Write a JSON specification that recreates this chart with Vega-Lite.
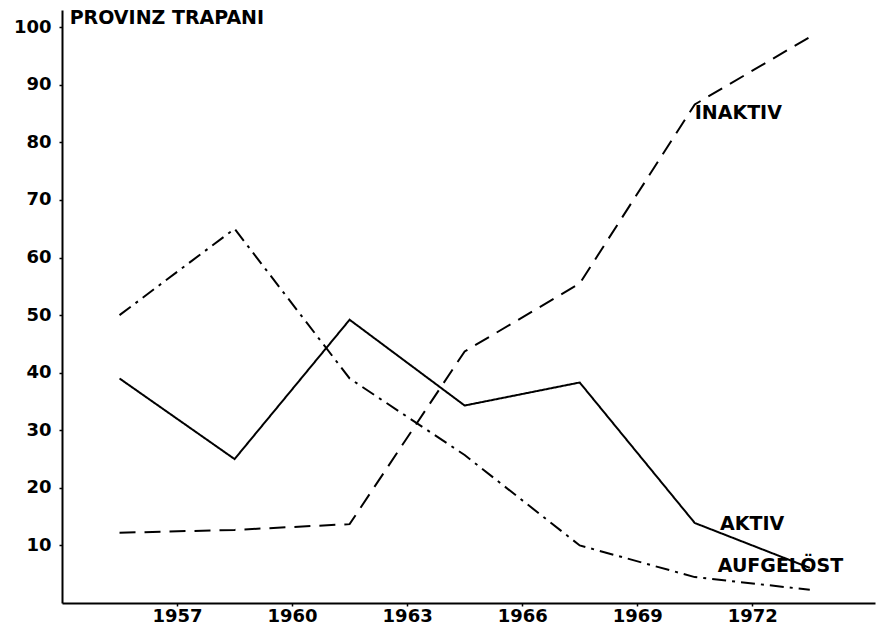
{
  "$schema": "https://vega.github.io/schema/vega-lite/v6.json",
  "width": 813,
  "height": 593,
  "autosize": {"type": "none"},
  "padding": {"left": 62, "top": 10, "right": 7, "bottom": 25},
  "background": "white",
  "config": {
    "view": {"stroke": null},
    "axis": {
      "grid": false,
      "domainColor": "black",
      "domainWidth": 2,
      "tickColor": "black",
      "tickWidth": 1.5,
      "tickSize": 3,
      "labelFont": "DejaVu Sans",
      "labelFontWeight": "bold",
      "labelFontSize": 18,
      "labelColor": "black",
      "title": null
    }
  },
  "datasets": {
    "series": [
      {"year": 1955.5, "value": 39, "series": "Aktiv"},
      {"year": 1958.5, "value": 25, "series": "Aktiv"},
      {"year": 1961.5, "value": 49.2, "series": "Aktiv"},
      {"year": 1964.5, "value": 34.3, "series": "Aktiv"},
      {"year": 1967.5, "value": 38.3, "series": "Aktiv"},
      {"year": 1970.5, "value": 13.9, "series": "Aktiv"},
      {"year": 1973.5, "value": 6.1, "series": "Aktiv"},
      {"year": 1955.5, "value": 12.2, "series": "Inaktiv"},
      {"year": 1958.5, "value": 12.7, "series": "Inaktiv"},
      {"year": 1961.5, "value": 13.7, "series": "Inaktiv"},
      {"year": 1964.5, "value": 43.7, "series": "Inaktiv"},
      {"year": 1967.5, "value": 55.5, "series": "Inaktiv"},
      {"year": 1970.5, "value": 86.6, "series": "Inaktiv"},
      {"year": 1973.5, "value": 98.3, "series": "Inaktiv"},
      {"year": 1955.5, "value": 50, "series": "Aufgelöst"},
      {"year": 1958.5, "value": 65, "series": "Aufgelöst"},
      {"year": 1961.5, "value": 39, "series": "Aufgelöst"},
      {"year": 1964.5, "value": 25.7, "series": "Aufgelöst"},
      {"year": 1967.5, "value": 10, "series": "Aufgelöst"},
      {"year": 1970.5, "value": 4.5, "series": "Aufgelöst"},
      {"year": 1973.5, "value": 2.3, "series": "Aufgelöst"}
    ],
    "labels": [
      {"year": 1954.2, "value": 101.6, "label": "PROVINZ  TRAPANI"},
      {"year": 1970.5, "value": 85.1, "label": "INAKTIV"},
      {"year": 1971.16, "value": 13.7, "label": "AKTIV"},
      {"year": 1971.1, "value": 6.4, "label": "AUFGELÖST"}
    ]
  },
  "layer": [
    {
      "data": {"name": "series"},
      "mark": {"type": "line", "color": "black", "strokeWidth": 2},
      "encoding": {
        "x": {
          "field": "year",
          "type": "quantitative",
          "scale": {"domain": [1954, 1975.2], "nice": false, "zero": false},
          "axis": {"values": [1957, 1960, 1963, 1966, 1969, 1972], "format": "d", "labelPadding": 1}
        },
        "y": {
          "field": "value",
          "type": "quantitative",
          "scale": {"domain": [0, 103], "nice": false},
          "axis": {"values": [10, 20, 30, 40, 50, 60, 70, 80, 90, 100], "labelPadding": 8}
        },
        "detail": {"field": "series"},
        "strokeDash": {
          "field": "series",
          "type": "nominal",
          "scale": {
            "domain": ["Aktiv", "Inaktiv", "Aufgelöst"],
            "range": [[1, 0], [16, 9], [14, 6, 3, 6]]
          },
          "legend": null
        }
      }
    },
    {
      "data": {"name": "labels"},
      "mark": {
        "type": "text",
        "align": "left",
        "baseline": "middle",
        "font": "DejaVu Sans",
        "fontWeight": "bold",
        "fontSize": 19,
        "color": "black"
      },
      "encoding": {
        "x": {"field": "year", "type": "quantitative"},
        "y": {"field": "value", "type": "quantitative"},
        "text": {"field": "label"}
      }
    }
  ]
}
